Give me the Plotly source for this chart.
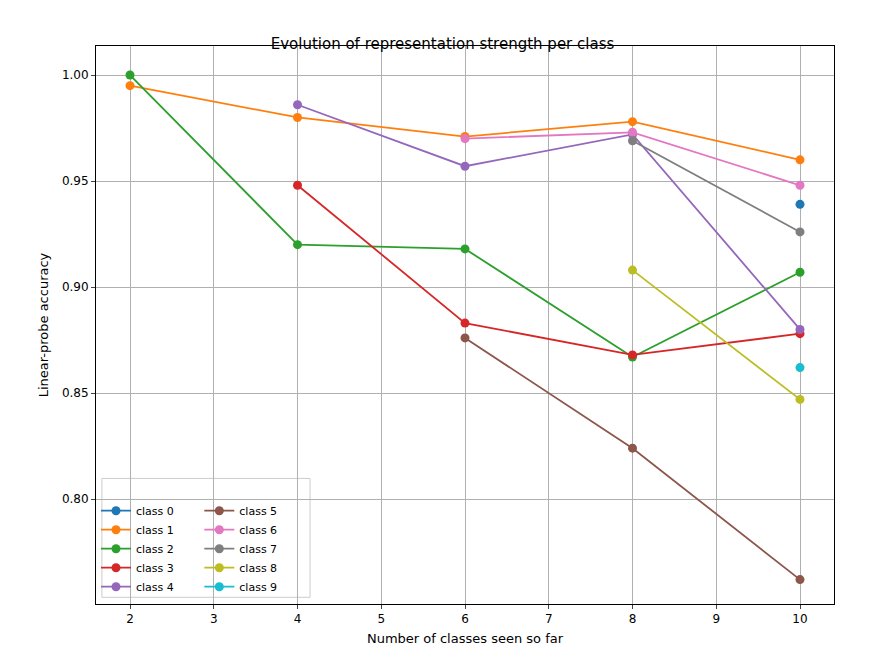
import plotly.graph_objects as go

colors = ["#1f77b4", "#ff7f0e", "#2ca02c", "#d62728", "#9467bd",
          "#8c564b", "#e377c2", "#7f7f7f", "#bcbd22", "#17becf"]

class_x = {
    0: [10],
    1: [2, 4, 6, 8, 10],
    2: [2, 4, 6, 8, 10],
    3: [4, 6, 8, 10],
    4: [4, 6, 8, 10],
    5: [6, 8, 10],
    6: [6, 8, 10],
    7: [8, 10],
    8: [8, 10],
    9: [10],
}
class_y = {
    0: [0.939],
    1: [0.995, 0.980, 0.971, 0.978, 0.960],
    2: [1.000, 0.920, 0.918, 0.867, 0.907],
    3: [0.948, 0.883, 0.868, 0.878],
    4: [0.986, 0.957, 0.972, 0.880],
    5: [0.876, 0.824, 0.762],
    6: [0.970, 0.973, 0.948],
    7: [0.969, 0.926],
    8: [0.908, 0.847],
    9: [0.862],
}

fig = go.Figure()
for c in range(10):
    fig.add_trace(go.Scatter(
        x=class_x[c], y=class_y[c], mode="lines+markers", name=f"class {c}",
        line=dict(color=colors[c], width=1.8), marker=dict(size=9, color=colors[c]),
        legend="legend" if c < 5 else "legend2"))

axis_common = dict(showgrid=True, gridcolor="#b0b0b0", gridwidth=1, showline=True,
                   linecolor="black", mirror=True, ticks="outside", ticklen=4,
                   zeroline=False, tickfont=dict(size=12))
fig.update_xaxes(range=[1.594, 10.406], dtick=1, tick0=2,
                 title=dict(text="Number of classes seen so far", font=dict(size=13), standoff=8),
                 **axis_common)
fig.update_yaxes(range=[0.7505, 1.0137], tickvals=[0.80, 0.85, 0.90, 0.95, 1.00],
                 tickformat=".2f",
                 title=dict(text="Linear-probe accuracy", font=dict(size=13), standoff=10),
                 **axis_common)

leg = dict(font=dict(size=11), bgcolor="rgba(0,0,0,0)", tracegroupgap=0,
           xanchor="left", yanchor="bottom", itemwidth=30)
fig.update_layout(
    width=869, height=669,
    margin=dict(l=88, r=43, t=38, b=73),
    plot_bgcolor="white", paper_bgcolor="white",
    font=dict(family="DejaVu Sans", color="black"),
    title=dict(text="Evolution of representation strength per class", x=0.5, xanchor="center",
               y=0.955, font=dict(size=15)),
    legend=dict(x=0.0, y=0.005, **leg),
    legend2=dict(x=0.14, y=0.005, **leg),
)
fig.add_shape(type="rect", xref="paper", yref="paper", x0=0.008, x1=0.29, y0=0.012, y1=0.225,
              line=dict(color="#cccccc", width=1), fillcolor="rgba(255,255,255,0.8)", layer="below")
fig.write_html("out.html")
